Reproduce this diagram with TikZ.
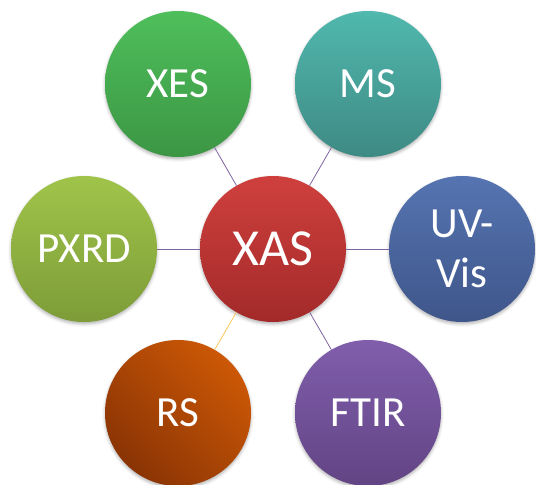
\documentclass[tikz,border=0pt]{standalone}
\usepackage{fontspec}
\setmainfont{Carlito}
\usetikzlibrary{shadows.blur}

\definecolor{xastop}{RGB}{207,64,61}
\definecolor{xasbot}{RGB}{163,42,42}
\definecolor{xestop}{RGB}{78,191,91}
\definecolor{xesbot}{RGB}{60,150,68}
\definecolor{mstop}{RGB}{80,184,174}
\definecolor{msbot}{RGB}{62,138,132}
\definecolor{pxrdtop}{RGB}{160,196,74}
\definecolor{pxrdbot}{RGB}{125,156,56}
\definecolor{uvtop}{RGB}{85,116,177}
\definecolor{uvbot}{RGB}{63,86,138}
\definecolor{rstop}{RGB}{204,88,6}
\definecolor{rsbot}{RGB}{138,52,4}
\definecolor{ftirtop}{RGB}{128,94,172}
\definecolor{ftirbot}{RGB}{98,68,132}
\definecolor{linkpurple}{RGB}{128,100,162}
\definecolor{linkgold}{RGB}{250,200,92}

\begin{document}
\begin{tikzpicture}[x=1pt,y=-1pt,
  bubble/.style={circle,minimum size=146pt,inner sep=0pt,text=white,align=center,
    font=\fontsize{43}{50}\selectfont,
    blur shadow={shadow xshift=0pt,shadow yshift=-2pt,shadow blur radius=3pt,shadow opacity=30}},
  link/.style={draw=linkpurple,line width=0.8pt}]
 \useasboundingbox (0,0) rectangle (536,485);

 % hub
 \node [bubble,top color=xastop,bottom color=xasbot,font=\fontsize{52}{60}\selectfont]
   (xas) at (273,249) {XAS};

 % techniques around the hub
 \foreach \name/\x/\y/\ctop/\cbot/\ang/\txt in
   {xes/178/84/xestop/xesbot/0/XES,
    ms/368/84/mstop/msbot/0/MS,
    pxrd/84/249/pxrdtop/pxrdbot/0/PXRD,
    uv/462/249/uvtop/uvbot/0/{UV-\\Vis},
    rs/178/413/rstop/rsbot/-45/RS,
    ftir/368/413/ftirtop/ftirbot/0/FTIR}
   \node [bubble,top color=\ctop,bottom color=\cbot,shading angle=\ang]
     (\name) at (\x,\y) {\txt};

 \foreach \name in {xes,ms,pxrd,uv,ftir}
   \draw [link] (xas) -- (\name);
 \draw [link,draw=linkgold] (xas) -- (rs);
\end{tikzpicture}
\end{document}
